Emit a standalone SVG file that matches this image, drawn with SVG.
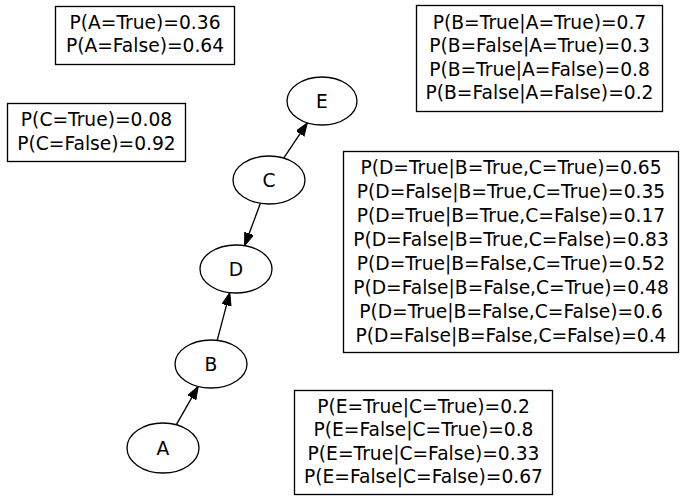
<svg xmlns="http://www.w3.org/2000/svg" width="687" height="504" viewBox="0 0 687 504">
<style>
text{font-family:"DejaVu Sans","Liberation Sans",sans-serif;font-size:18.67px;fill:#000;text-anchor:middle}
.box{fill:#fff;stroke:#000;stroke-width:1.33}
.node{fill:#fff;stroke:#000;stroke-width:1.33}
.edge{stroke:#000;stroke-width:1.33;fill:none;marker-end:url(#arr)}
</style>
<defs>
<marker id="arr" markerUnits="userSpaceOnUse" markerWidth="14" markerHeight="10" refX="13" refY="4.7" orient="auto">
<path d="M0,0 L13,4.7 L0,9.4 z" fill="#000" stroke="#000" stroke-width="1"/>
</marker>
</defs>
<rect width="687" height="504" fill="#fff"/>
<g id="cptA">
<rect class="box" x="55.5" y="6.5" width="179" height="58"/>
<text x="145" y="28.8">P(A=True)=0.36</text>
<text x="145" y="52.2">P(A=False)=0.64</text>
</g>
<g id="cptC">
<rect class="box" x="7.5" y="103.5" width="178" height="58"/>
<text x="96.5" y="126.3">P(C=True)=0.08</text>
<text x="96.5" y="149.7">P(C=False)=0.92</text>
</g>
<g id="cptB">
<rect class="box" x="416.5" y="5.5" width="246" height="106"/>
<text x="539.5" y="28.9">P(B=True|A=True)=0.7</text>
<text x="539.5" y="52.3">P(B=False|A=True)=0.3</text>
<text x="539.5" y="75.7">P(B=True|A=False)=0.8</text>
<text x="539.5" y="99.1">P(B=False|A=False)=0.2</text>
</g>
<g id="cptD">
<rect class="box" x="343.5" y="151.5" width="335" height="201"/>
<text x="511" y="173.5">P(D=True|B=True,C=True)=0.65</text>
<text x="511" y="197.5">P(D=False|B=True,C=True)=0.35</text>
<text x="511" y="221.5">P(D=True|B=True,C=False)=0.17</text>
<text x="511" y="245.5">P(D=False|B=True,C=False)=0.83</text>
<text x="511" y="269.5">P(D=True|B=False,C=True)=0.52</text>
<text x="511" y="293.5">P(D=False|B=False,C=True)=0.48</text>
<text x="511" y="317.5">P(D=True|B=False,C=False)=0.6</text>
<text x="511" y="341.5">P(D=False|B=False,C=False)=0.4</text>
</g>
<g id="cptE">
<rect class="box" x="294.5" y="390.5" width="258" height="104"/>
<text x="423.5" y="412.8">P(E=True|C=True)=0.2</text>
<text x="423.5" y="436.2">P(E=False|C=True)=0.8</text>
<text x="423.5" y="459.7">P(E=True|C=False)=0.33</text>
<text x="423.5" y="483.2">P(E=False|C=False)=0.67</text>
</g>
<g id="connectors">
<path class="edge" d="M283.7,158.1 L307.3,122.9"/>
<path class="edge" d="M260.4,203.3 L244.6,245.7"/>
<path class="edge" d="M217.2,340.4 L229.8,292.6"/>
<path class="edge" d="M175.8,425.6 L198.2,386.4"/>
</g>
<g id="nodeE">
<ellipse class="node" cx="322" cy="101" rx="35" ry="24"/>
<text x="322" y="107.5">E</text>
</g>
<g id="nodeC">
<ellipse class="node" cx="269" cy="180" rx="36" ry="24"/>
<text x="269" y="186.5">C</text>
</g>
<g id="nodeD">
<ellipse class="node" cx="236" cy="269" rx="36" ry="24"/>
<text x="236" y="275.5">D</text>
</g>
<g id="nodeB">
<ellipse class="node" cx="211" cy="364" rx="36" ry="24"/>
<text x="211" y="370.5">B</text>
</g>
<g id="nodeA">
<ellipse class="node" cx="163" cy="448" rx="36" ry="25"/>
<text x="163" y="454.5">A</text>
</g>
</svg>
